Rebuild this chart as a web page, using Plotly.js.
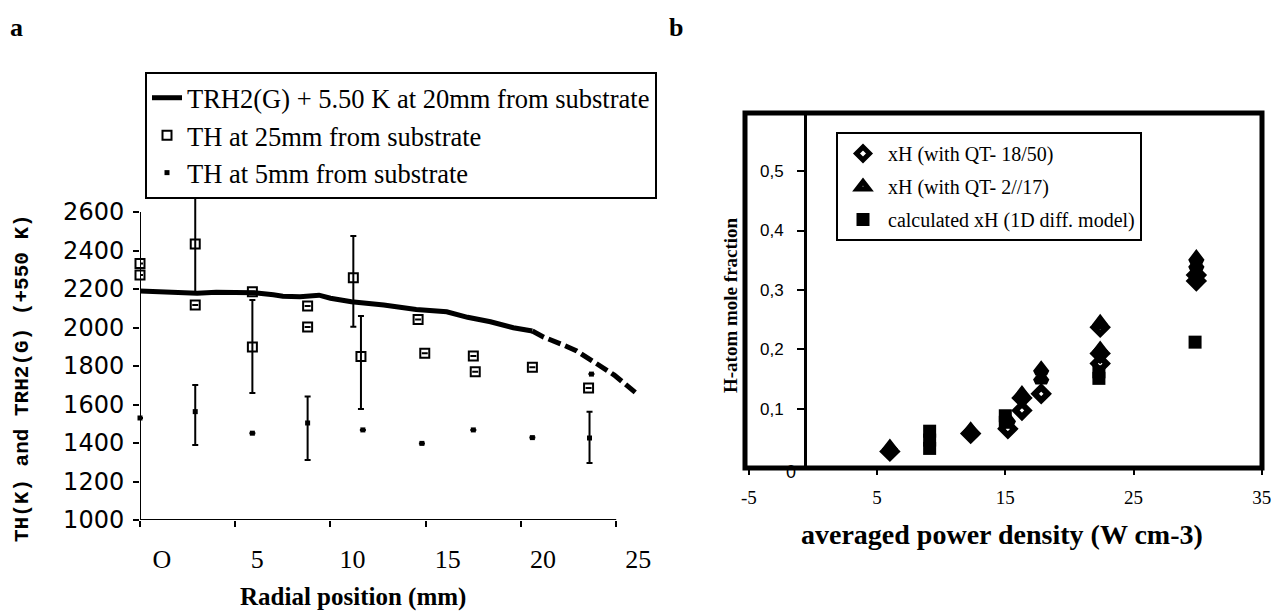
<!DOCTYPE html>
<html><head><meta charset="utf-8">
<script src="https://cdn.plot.ly/plotly-3.0.1.min.js"></script>
<style>html,body{margin:0;padding:0;background:#fff}#chart{width:1277px;height:614px}</style>
</head><body><div id="chart"></div>
<script>
// ---------- Panel a : temperatures vs radial position ----------
const trhX = [0, 1, 2, 3, 4, 5, 6, 7, 7.5, 8.4, 9.4, 10, 11.1, 12.8, 14.5, 16.1, 17.2, 18.4, 19.6, 20.6];
const trhY = [2190, 2186, 2180, 2178, 2183, 2183, 2180, 2170, 2163, 2160, 2168, 2152, 2134, 2117, 2094, 2082, 2053, 2030, 1999, 1982];
const trhTailX = [20.6, 21.2, 22.2, 22.9, 23.9, 24.9, 26.0];
const trhTailY = [1982, 1950, 1910, 1880, 1817, 1753, 1663];

const th25X = [0, 0, 2.9, 2.9, 5.9, 5.9, 8.8, 8.8, 11.2, 11.6, 14.6, 14.95, 17.5, 17.6, 20.6, 23.55];
const th25Y = [2333, 2273, 2434, 2117, 2186, 1899, 2112, 2003, 2259, 1849, 2042, 1866, 1852, 1770, 1793, 1686];
const th25ErrUp = [null, null, 250, null, null, 244, null, null, 216, 211, null, null, null, null, null, null];
const th25ErrDn = [null, null, 255, null, null, 239, null, null, 255, 272, null, null, null, null, null, null];

const th5X = [0, 2.9, 5.9, 8.8, 11.7, 14.8, 17.5, 20.6, 23.6, 23.7];
const th5Y = [1530, 1563, 1451, 1504, 1468, 1398, 1468, 1428, 1426, 1758];
const th5ErrUp = [null, 138, null, 137, null, null, null, null, 137, null];
const th5ErrDn = [null, 173, null, 192, null, null, null, null, 130, null];

const aTickVals = [0, 5, 10, 15, 20, 25];
const aTickText = ['O', '5', '10', '15', '20', '25'];
const aYTicks = [1000, 1200, 1400, 1600, 1800, 2000, 2200, 2400, 2600];

// ---------- Panel b : H-atom mole fraction vs power density ----------
const qt1850X = [6, 12.3, 15.2, 16.3, 16.3, 17.8, 22.4, 22.4, 22.4, 29.9, 29.9];
const qt1850Y = [0.028, 0.058, 0.066, 0.118, 0.097, 0.125, 0.237, 0.193, 0.176, 0.325, 0.315];
const qt217X = [6, 12.3, 15.2, 16.3, 17.8, 17.8, 22.4, 22.4, 29.9, 29.9];
const qt217Y = [0.033, 0.062, 0.080, 0.123, 0.165, 0.150, 0.243, 0.198, 0.352, 0.340];
const calcX = [9.1, 9.1, 9.1, 15.0, 15.0, 22.3, 22.3, 29.8];
const calcY = [0.062, 0.047, 0.033, 0.088, 0.077, 0.162, 0.151, 0.212];

const bXTicks = [-5, 5, 15, 25, 35];
const bXText = ['-5', '5', '15', '25', '35'];
const bYTicks = [0.1, 0.2, 0.3, 0.4, 0.5];
const bYText = ['0,1', '0,2', '0,3', '0,4', '0,5'];

// ---------- helpers: pixel -> paper ----------
const W = 1277, H = 614;
const px = v => v / W;
const py = v => 1 - v / H;

const serif = 'Liberation Serif, Times New Roman, serif';
const sans = 'DejaVu Sans, sans-serif';

const traces = [
  {x: trhX, y: trhY, xaxis: 'x', yaxis: 'y', mode: 'lines', name: 'TRH2(G) + 5.50 K at 20mm from substrate',
   line: {color: '#000', width: 5}, legend: 'legend', legendgroup: 'a1'},
  {x: trhTailX, y: trhTailY, xaxis: 'x', yaxis: 'y', mode: 'lines', showlegend: false,
   line: {color: '#000', width: 5, dash: '13px,5px'}, legendgroup: 'a1'},
  {x: th25X, y: th25Y, xaxis: 'x', yaxis: 'y', mode: 'markers', name: 'TH at 25mm from substrate',
   marker: {symbol: 'square-open', size: 9, color: '#000', line: {width: 2, color: '#000'}},
   error_y: {type: 'data', symmetric: false, array: th25ErrUp, arrayminus: th25ErrDn, color: '#000', thickness: 2, width: 3},
   cliponaxis: false, legend: 'legend', legendgroup: 'a2'},
  {x: th5X, y: th5Y, xaxis: 'x', yaxis: 'y', mode: 'markers', name: 'TH at 5mm from substrate',
   marker: {symbol: 'square', size: 5, color: '#000'},
   error_y: {type: 'data', symmetric: false, array: th5ErrUp, arrayminus: th5ErrDn, color: '#000', thickness: 2, width: 3},
   cliponaxis: false, legend: 'legend', legendgroup: 'a3'},

  {x: qt1850X, y: qt1850Y, xaxis: 'x2', yaxis: 'y2', mode: 'markers', name: 'xH (with QT- 18/50)',
   marker: {symbol: 'diamond-open', size: 10, color: '#000', line: {width: 6, color: '#000'}},
   legend: 'legend2', legendgroup: 'b1'},
  {x: qt217X, y: qt217Y, xaxis: 'x2', yaxis: 'y2', mode: 'markers', name: 'xH (with QT- 2//17)',
   marker: {symbol: 'triangle-up-open', size: 10, color: '#000', line: {width: 6, color: '#000'}},
   legend: 'legend2', legendgroup: 'b2'},
  {x: calcX, y: calcY, xaxis: 'x2', yaxis: 'y2', mode: 'markers', name: 'calculated xH (1D diff. model)',
   marker: {symbol: 'square', size: 13, color: '#000'},
   legend: 'legend2', legendgroup: 'b3'}
];

const ann = (text, x, y, size, family, extra) => Object.assign({
  text: text, xref: 'paper', yref: 'paper', x: x, y: y, xanchor: 'center', yanchor: 'middle',
  showarrow: false, font: {family: family, size: size, color: '#000'}
}, extra || {});

const layout = {
  width: W, height: H,
  margin: {l: 0, r: 0, t: 0, b: 0},
  paper_bgcolor: '#fff', plot_bgcolor: 'rgba(0,0,0,0)',
  font: {family: serif, color: '#000'},
  showlegend: true,
  xaxis: {
    domain: [px(140), px(660)], range: [0, 27.3], anchor: 'y',
    tickvals: aTickVals, ticktext: aTickText, ticks: 'outside', ticklen: 6, tickwidth: 2, tickcolor: '#000',
    showline: false, showgrid: false, zeroline: false,
    tickfont: {family: serif, size: 26, color: '#000'}, ticklabelshift: 22, ticklabelstandoff: 10
  },
  yaxis: {
    domain: [py(520), py(194.7)], range: [1000, 2690], anchor: 'x',
    tickvals: aYTicks, ticks: 'outside', ticklen: 6, tickwidth: 2, tickcolor: '#000',
    showline: false, showgrid: false, zeroline: false,
    tickfont: {family: sans, size: 24, color: '#000'}, ticklabelstandoff: 4
  },
  xaxis2: {
    domain: [px(745), px(1262)], range: [-5.3, 35.02], anchor: 'y2',
    tickvals: bXTicks, ticktext: bXText, ticks: 'outside', ticklen: 6, tickwidth: 2, tickcolor: '#000',
    showline: false, showgrid: false, zeroline: false,
    tickfont: {family: serif, size: 19, color: '#000'}, ticklabelstandoff: 6
  },
  yaxis2: {
    domain: [py(468), py(113)], range: [0, 0.598], anchor: 'free', position: px(805),
    tickvals: bYTicks, ticktext: bYText, ticks: 'outside', ticklen: 7, tickwidth: 2, tickcolor: '#000',
    showline: true, linewidth: 3, linecolor: '#000', showgrid: false, zeroline: false,
    tickfont: {family: 'Liberation Sans, Arial, sans-serif', size: 17, color: '#000'}, ticklabelstandoff: 10
  },
  legend: {
    x: px(145), y: py(72), xanchor: 'left', yanchor: 'top',
    bordercolor: '#000', borderwidth: 2, bgcolor: '#fff',
    font: {family: serif, size: 26.5, color: '#000'},
    traceorder: 'grouped', tracegroupgap: 0, itemwidth: 30
  },
  legend2: {
    x: px(836), y: py(132), xanchor: 'left', yanchor: 'top',
    bordercolor: '#000', borderwidth: 2, bgcolor: '#fff',
    font: {family: serif, size: 20, color: '#000'},
    traceorder: 'grouped', tracegroupgap: 4, itemwidth: 40
  },
  shapes: [
    // panel a axis lines
    {type: 'line', xref: 'x', yref: 'y', x0: 0, x1: 25, y0: 1000, y1: 1000, line: {color: '#000', width: 2}},
    {type: 'line', xref: 'x', yref: 'y', x0: 0, x1: 0, y0: 1000, y1: 2600, line: {color: '#000', width: 2}},
    // panel b frame
    {type: 'rect', xref: 'x2 domain', yref: 'y2 domain', x0: 0, x1: 1, y0: 0, y1: 1, line: {color: '#000', width: 5}}
  ],
  annotations: [
    ann('<b>a</b>', px(16), py(27), 26, serif),
    ann('<b>b</b>', px(676), py(27), 26, serif),
    ann('<b>TH(K) and TRH2(G) (+550 K)</b>', px(22), py(378), 21, 'Liberation Mono, DejaVu Sans Mono, monospace', {textangle: -90}),
    ann('<b>Radial position (mm)</b>', px(353), py(597), 25, serif),
    ann('<b>H-atom mole fraction</b>', px(730), py(305), 19, serif, {textangle: -90}),
    ann('<b>averaged power density (W cm-3)</b>', px(1002), py(534), 28, serif),
    {text: '0', xref: 'x2', yref: 'y2', x: -1.7, y: 0, yshift: -4, xanchor: 'center', yanchor: 'middle', showarrow: false,
     font: {family: 'Liberation Sans, Arial, sans-serif', size: 18, color: '#000'}}
  ]
};

Plotly.newPlot('chart', traces, layout, {displayModeBar: false, staticPlot: true});
</script>
</body></html>
